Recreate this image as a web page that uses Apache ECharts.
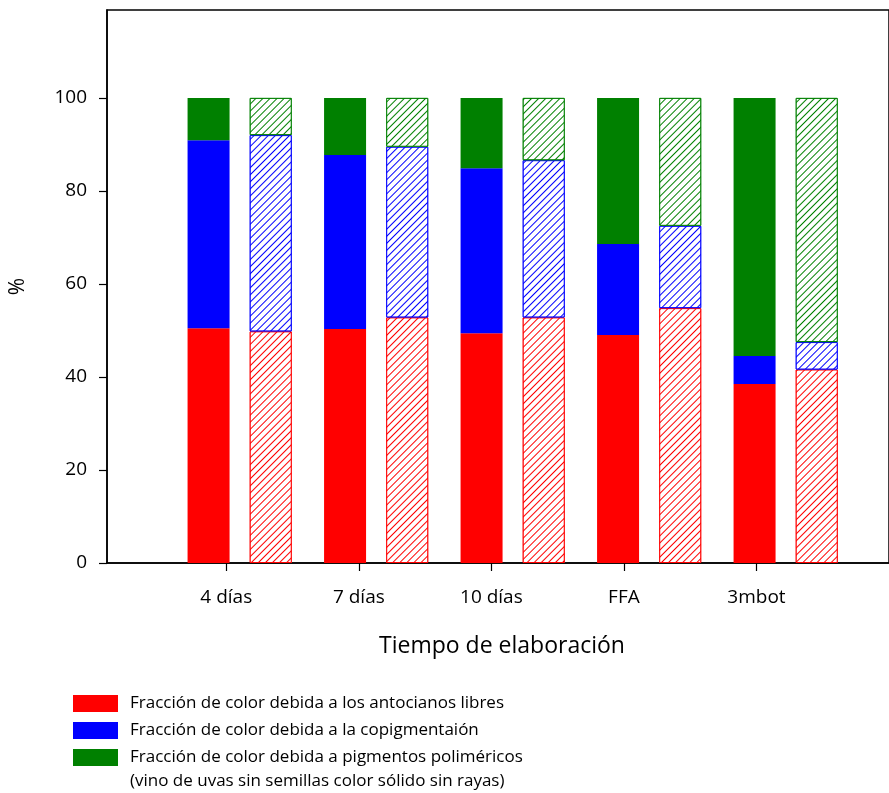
<!DOCTYPE html>
<html>
<head>
<meta charset="utf-8">
<script src="https://cdn.jsdelivr.net/npm/echarts@6/dist/echarts.min.js"></script>
<style>
  html, body { margin: 0; padding: 0; background: #fff; }
  #chart { width: 889px; height: 793px; }
</style>
</head>
<body>
<div id="chart"></div>
<script>
// Stage of winemaking on the x axis
const categories = ['4 días', '7 días', '10 días', 'FFA', '3mbot'];
const categoryPositions = [1, 2, 3, 4, 5];
const yTicks = [0, 20, 40, 60, 80, 100];

// Wine from seedless grapes (solid bars), % of colour
const seedlessFree = [50.5, 50.3, 49.4, 49.0, 38.5];
const seedlessCopig = [40.4, 37.4, 35.5, 19.6, 6.0];
const seedlessPoly = [9.1, 12.3, 15.1, 31.4, 55.5];

// Wine from grapes with seeds (hatched bars), % of colour
const seededFree = [49.8, 52.8, 52.8, 54.8, 41.6];
const seededCopig = [42.2, 36.7, 33.8, 17.7, 5.9];
const seededPoly = [8.0, 10.5, 13.4, 27.5, 52.5];

const names = [
  'Fracción de color debida a los antocianos libres',
  'Fracción de color debida a la copigmentaión',
  'Fracción de color debida a pigmentos poliméricos'
];
const noteLine = '(vino de uvas sin semillas color sólido sin rayas)';

const RED = '#ff0000', BLUE = '#0000ff', GREEN = '#008000';
const FONT = 'Open Sans';
const Y_MAX = 118.9;

function solidSeries(name, data, color) {
  return {
    name, type: 'bar', stack: 'seedless', data,
    xAxisIndex: 1, yAxisIndex: 1,
    barWidth: 42, barGap: '48%',
    itemStyle: { color },
    emphasis: { disabled: true }
  };
}
// White bar with coloured outline and thin "/" hatch lines
function hatchedSeries(name, data, color) {
  return {
    name, type: 'bar', stack: 'seeded', data,
    xAxisIndex: 1, yAxisIndex: 1,
    barWidth: 42, barGap: '48%',
    itemStyle: {
      color: '#ffffff', borderColor: color, borderWidth: 1,
      decal: {
        symbol: 'rect', symbolSize: 1, color: color, backgroundColor: '#ffffff',
        dashArrayX: [1, 0], dashArrayY: [1, 3.3], rotation: -Math.PI / 4
      }
    },
    emphasis: { disabled: true }
  };
}

const axisLineStyle = { color: '#000', width: 1.5 };

const chart = echarts.init(document.getElementById('chart'), null, { renderer: 'canvas' });
chart.setOption({
  animation: false,
  backgroundColor: '#fff',
  textStyle: { fontFamily: FONT, color: '#000' },
  grid: [
    { left: 106.5, right: -22.8, top: 10, bottom: 230, show: true, borderColor: '#000', borderWidth: 1.5, containLabel: false },
    { left: 171.4, right: 35.1, top: 10, bottom: 230, containLabel: false }
  ],
  xAxis: [
    {
      type: 'value', gridIndex: 0, min: 0.1, max: 6,
      axisLine: { show: true, lineStyle: axisLineStyle },
      axisTick: { show: true, length: 8, customValues: categoryPositions, lineStyle: { color: '#000', width: 1.2 } },
      axisLabel: {
        customValues: categoryPositions, fontSize: 19, color: '#000', margin: 25, fontFamily: FONT,
        formatter: v => categories[Math.round(v) - 1]
      },
      splitLine: { show: false },
      name: 'Tiempo de elaboración', nameLocation: 'middle', nameGap: 72,
      nameTextStyle: { fontSize: 23, color: '#000', fontFamily: FONT, padding: [0, 0, 0, 8] }
    },
    { type: 'category', gridIndex: 1, data: categories, show: false }
  ],
  yAxis: [
    {
      type: 'value', gridIndex: 0, min: 0, max: Y_MAX,
      axisLine: { show: true, lineStyle: axisLineStyle },
      axisTick: { show: true, length: 8, customValues: yTicks, lineStyle: { color: '#000', width: 1.2 } },
      axisLabel: { customValues: yTicks, fontSize: 19, color: '#000', margin: 20, fontFamily: FONT },
      splitLine: { show: false },
      name: '%', nameLocation: 'middle', nameRotate: 90, nameGap: 78,
      nameTextStyle: { fontSize: 21, color: '#000', fontFamily: FONT }
    },
    { type: 'value', gridIndex: 1, min: 0, max: Y_MAX, show: false }
  ],
  legend: {
    orient: 'vertical', left: 73, top: 695, padding: 0,
    itemWidth: 45, itemHeight: 17, itemGap: 10, icon: 'rect',
    textStyle: { fontSize: 17, color: '#000', fontFamily: FONT, padding: [1, 0, 0, 7] },
    selectedMode: false,
    data: [
      { name: names[0], itemStyle: { color: RED, borderWidth: 0, decal: 'none' } },
      { name: names[1], itemStyle: { color: BLUE, borderWidth: 0, decal: 'none' } },
      { name: names[2], itemStyle: { color: GREEN, borderWidth: 0, decal: 'none' } }
    ]
  },
  graphic: [
    { type: 'text', left: 130, top: 773, style: { text: noteLine, fontSize: 17, fill: '#000', fontFamily: FONT } }
  ],
  series: [
    solidSeries(names[0], seedlessFree, RED),
    solidSeries(names[1], seedlessCopig, BLUE),
    solidSeries(names[2], seedlessPoly, GREEN),
    hatchedSeries(names[0], seededFree, RED),
    hatchedSeries(names[1], seededCopig, BLUE),
    hatchedSeries(names[2], seededPoly, GREEN)
  ]
});
</script>
</body>
</html>
